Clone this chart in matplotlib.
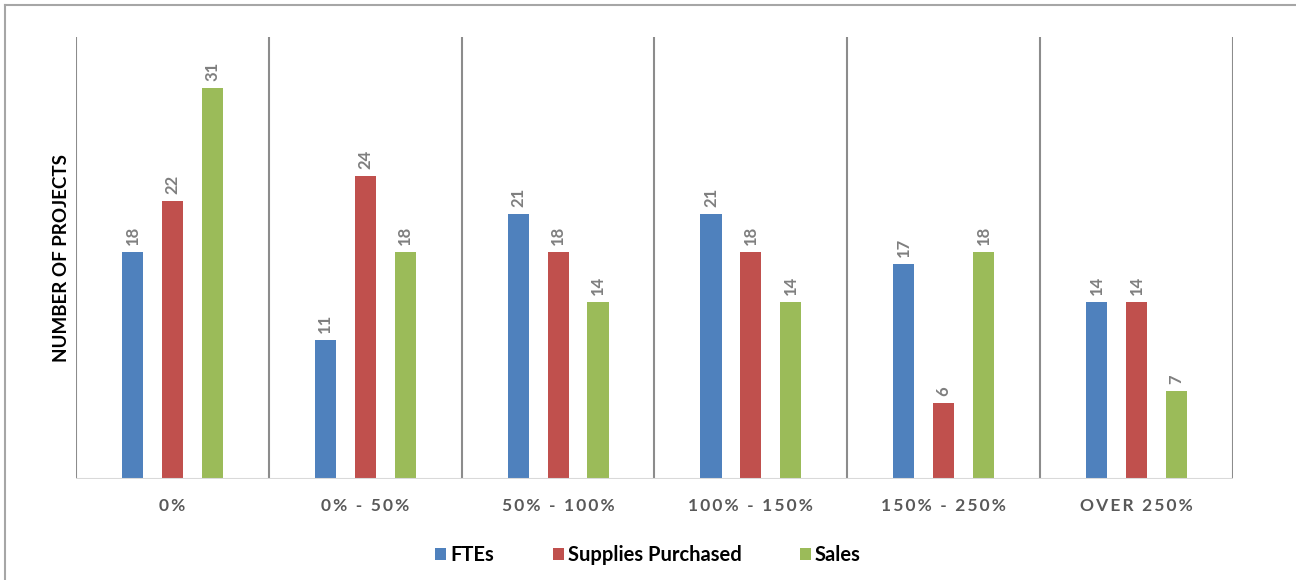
import numpy as np
import matplotlib.pyplot as plt
from matplotlib.lines import Line2D

plt.rcParams['font.family'] = ['Lato', 'DejaVu Sans']

categories = ["0%", "0% - 50%", "50% - 100%", "100% - 150%", "150% - 250%", "OVER 250%"]
series_names = ["FTEs", "Supplies Purchased", "Sales"]
ftes = [18, 11, 21, 21, 17, 14]
supplies = [22, 24, 18, 18, 6, 14]
sales = [31, 18, 14, 14, 18, 7]
colors = ["#4f81bd", "#c0504d", "#9bbb59"]


def spaced(s):
    # letter spacing like the original axis labels
    return "\u2009".join(s)


fig = plt.figure(figsize=(12.96, 5.80), dpi=100)
ax = fig.add_axes([76 / 1296, 1 - 479 / 580, (1233 - 76) / 1296, (479 - 37) / 580])

x = np.arange(len(categories))
width = 0.109
offset = 0.207
for i, (vals, name, col) in enumerate(zip([ftes, supplies, sales], series_names, colors)):
    pos = x + (i - 1) * offset
    ax.bar(pos, vals, width=width, color=col, label=name, zorder=3)
    for p, v in zip(pos, vals):
        ax.annotate(str(v), (p, v), xytext=(0, 5), textcoords="offset points",
                    rotation=90, ha="center", va="bottom", fontsize=12,
                    fontweight="bold", color="#7f7f7f")

ax.set_xlim(-0.5, len(categories) - 0.5)
ax.set_ylim(0, 35)
for b in np.arange(-0.5, len(categories), 1.0):
    ax.axvline(b, color="#8c8c8c", lw=1.5, zorder=2)
ax.axhline(0, color="#d9d9d9", lw=1.5, zorder=4)

for s in ax.spines.values():
    s.set_visible(False)
ax.set_yticks([])
ax.set_xticks(x)
ax.set_xticklabels([spaced(c) for c in categories], fontsize=12.5, fontweight="bold",
                   color="#595959")
ax.tick_params(axis="x", length=0, pad=14)
ax.set_ylabel("NUMBER OF PROJECTS", fontsize=13.5, fontweight="bold", color="black", labelpad=4)

fig.legend(loc="center", bbox_to_anchor=(0.5, 1 - 555 / 580), ncol=3, frameon=False,
           handlelength=0.55, handleheight=0.6, handletextpad=0.2,
           columnspacing=2.9, prop={"weight": "bold", "size": 14.5})

# outer border (only top and left visible)
fig.add_artist(Line2D([5 / 1296, 5 / 1296], [0, 1 - 5 / 580], color="#a6a6a6", lw=1.5))
fig.add_artist(Line2D([5 / 1296, 1], [1 - 5 / 580, 1 - 5 / 580], color="#a6a6a6", lw=1.5))

fig.savefig("out.png", dpi=100)
